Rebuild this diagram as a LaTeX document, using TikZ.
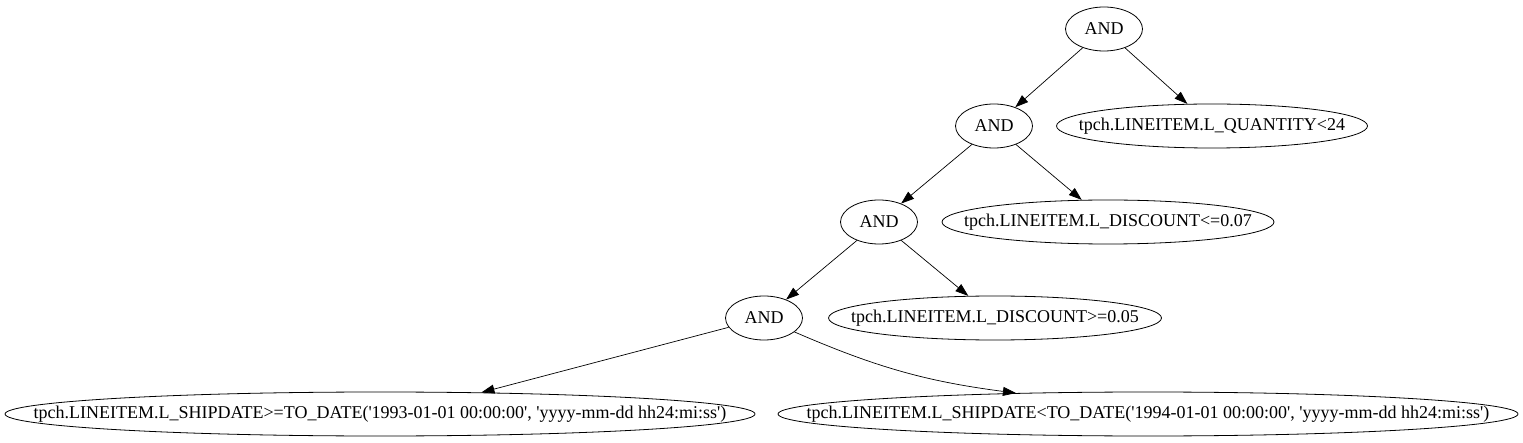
\documentclass[tikz,border=0pt]{standalone}
\usepackage{fontspec}
\setmainfont{Liberation Serif}
\usetikzlibrary{shapes.geometric}
\usetikzlibrary{arrows.meta}
\tikzset{cond/.style={ellipse, draw=black, line width=0.8bp, inner sep=0pt, minimum height=44bp, minimum width=#1, font=\fontsize{18bp}{20bp}\selectfont},
%default width is the one of an AND node
cond/.default={77bp},
    link/.style={
    line width=0.7bp,
    -{Triangle[length=13bp,width=9bp]},
    },
}
\newcommand{\flatlbl}[1]{\makebox[0pt]{#1}}
\newcommand{\sq}{\textquotesingle}

\begin{document}
\begin{tikzpicture}[x=1bp,y=-1bp]
\useasboundingbox (0,0) rectangle (1523,443);
\node[cond] (and1) at (1104,29) {AND}; % root
\node[cond] (and2) at (994,126) {AND};
\node[cond=311bp] (qty) at (1212,126) {\flatlbl{tpch.LINEITEM.L\_QUANTITY<24}};
\node[cond] (and3) at (879,222) {AND};
\node[cond=332bp] (disc7) at (1108,222) {\flatlbl{tpch.LINEITEM.L\_DISCOUNT<=0.07}};
\node[cond] (and4) at (764,318) {AND};
\node[cond=333bp] (disc5) at (995,318) {\flatlbl{tpch.LINEITEM.L\_DISCOUNT>=0.05}};
\node[cond=750bp] (ship1) at (380,414) {\flatlbl{tpch.LINEITEM.L\_SHIPDATE>=TO\_DATE(\sq1993-01-01 00:00:00\sq, \sq yyyy-mm-dd hh24:mi:ss\sq)}}; % lower bound
\node[cond=740bp] (ship2) at (1148,414) {\flatlbl{tpch.LINEITEM.L\_SHIPDATE<TO\_DATE(\sq1994-01-01 00:00:00\sq, \sq yyyy-mm-dd hh24:mi:ss\sq)}}; % upper bound
\draw[link] (and1) -- (and2);
\draw[link] (and1) -- (qty);
\draw[link] (and2) -- (and3);
\draw[link] (and2) -- (disc7);
\draw[link] (and3) -- (and4);
\draw[link] (and3) -- (disc5);
\draw[link] (and4) -- (ship1.12);
\draw[link] (and4) to[bend right=8] (ship2.171);
\end{tikzpicture}
\end{document}
